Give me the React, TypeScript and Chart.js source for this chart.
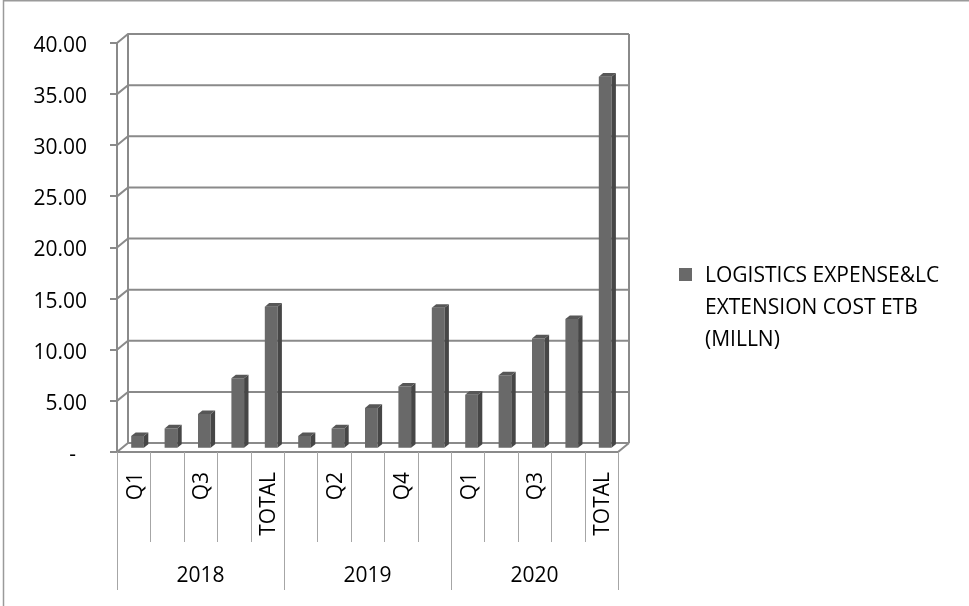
import React, { useEffect, useRef } from 'react';
import { Chart, registerables } from 'chart.js';
Chart.register(...registerables);

const years = ['2018', '2019', '2020'];
const periods = ['Q1', 'Q2', 'Q3', 'Q4', 'TOTAL'];
const values2018 = [1.25, 2.0, 3.4, 6.9, 13.9];
const values2019 = [1.25, 2.0, 4.0, 6.1, 13.8];
const values2020 = [5.3, 7.2, 10.8, 12.7, 36.4];
const seriesName = 'LOGISTICS EXPENSE&LC EXTENSION COST ETB (MILLN)';
const legendLines = ['LOGISTICS EXPENSE&LC', 'EXTENSION COST ETB', '(MILLN)'];
const yMin = 0;
const yMax = 40;
const yStep = 5;

const FONT = '"Open Sans", sans-serif';
const GRID = '#8a8a8a';
const SEP = '#a6a6a6';
const BAR_FRONT = '#696969';
const BAR_SIDE = '#464646';
const BAR_TOP = '#575757';
const DX = 11;
const DY = -9;
const BAR_POS = 0.35;
const BAR_DEPTH = 0.4;

const labels = years.flatMap((yr) => periods.map((p) => `${yr} ${p}`));
const values = [...values2018, ...values2019, ...values2020];

const threeD = {
  id: 'threeD',
  beforeDatasetsDraw(chart: any) {
    const { ctx, chartArea: a, scales } = chart;
    const y = scales.y;
    const y0 = y.getPixelForValue(yMin);
    const yT = y.getPixelForValue(yMax);
    ctx.save();
    ctx.strokeStyle = GRID;
    ctx.lineWidth = 2;
    ctx.beginPath();
    for (let v = yMin; v <= yMax; v += yStep) {
      const py = y.getPixelForValue(v);
      ctx.moveTo(a.left, py);
      ctx.lineTo(a.left + DX, py + DY);
      ctx.lineTo(a.right + DX, py + DY);
    }
    ctx.moveTo(a.left, yT);
    ctx.lineTo(a.left, y0);
    ctx.moveTo(a.left + DX, yT + DY);
    ctx.lineTo(a.left + DX, y0 + DY);
    ctx.moveTo(a.right + DX, yT + DY);
    ctx.lineTo(a.right + DX, y0 + DY);
    ctx.moveTo(a.left, y0);
    ctx.lineTo(a.right, y0);
    ctx.lineTo(a.right + DX, y0 + DY);
    ctx.stroke();
    ctx.restore();
    ctx.save();
    ctx.translate(DX * BAR_POS, DY * BAR_POS);
  },
  afterDatasetsDraw(chart: any) {
    const ctx = chart.ctx;
    const meta = chart.getDatasetMeta(0);
    const sdx = DX * BAR_DEPTH;
    const sdy = DY * BAR_DEPTH;
    meta.data.forEach((el: any) => {
      const { x, y, base, width } = el.getProps(['x', 'y', 'base', 'width'], true);
      const l = x - width / 2;
      const r = x + width / 2;
      ctx.fillStyle = BAR_SIDE;
      ctx.beginPath();
      ctx.moveTo(r, y);
      ctx.lineTo(r + sdx, y + sdy);
      ctx.lineTo(r + sdx, base + sdy);
      ctx.lineTo(r, base);
      ctx.closePath();
      ctx.fill();
      ctx.fillStyle = BAR_TOP;
      ctx.beginPath();
      ctx.moveTo(l, y);
      ctx.lineTo(r, y);
      ctx.lineTo(r + sdx, y + sdy);
      ctx.lineTo(l + sdx, y + sdy);
      ctx.closePath();
      ctx.fill();
    });
    ctx.restore();
  },
  afterDraw(chart: any) {
    const { ctx, chartArea: a, scales } = chart;
    const xs = scales.x;
    const n = labels.length;
    const w = (a.right - a.left) / n;
    const y0 = a.bottom;
    ctx.save();
    // outer border
    ctx.strokeStyle = '#9a9a9a';
    ctx.lineWidth = 1.5;
    ctx.beginPath();
    ctx.moveTo(3.5, chart.height);
    ctx.lineTo(3.5, 0.75);
    ctx.lineTo(chart.width, 0.75);
    ctx.stroke();
    // separators
    ctx.strokeStyle = SEP;
    ctx.lineWidth = 1;
    ctx.beginPath();
    for (let i = 0; i <= n; i++) {
      const px = Math.round(a.left + i * w) + 0.5;
      ctx.moveTo(px, y0);
      ctx.lineTo(px, i % periods.length === 0 ? y0 + 138 : y0 + 90);
    }
    ctx.stroke();
    ctx.fillStyle = '#000';
    ctx.font = `21px ${FONT}`;
    // period labels (every other, as auto-skipped)
    for (let i = 0; i < n; i += 2) {
      const px = xs.getPixelForValue(i) + 2;
      ctx.save();
      ctx.translate(px, y0 + 20);
      ctx.rotate(-Math.PI / 2);
      ctx.textAlign = 'right';
      ctx.textBaseline = 'middle';
      ctx.fillText(periods[i % periods.length], 0, 0);
      ctx.restore();
    }
    // year labels
    ctx.textAlign = 'center';
    ctx.textBaseline = 'middle';
    years.forEach((yr, g) => {
      const cx = a.left + (g * periods.length + periods.length / 2) * w;
      ctx.fillText(yr, cx, y0 + 124);
    });
    ctx.restore();
  },
};

export default function App() {
  const ref = useRef<HTMLCanvasElement>(null);
  useEffect(() => {
    document.body.style.margin = '0';
    const chart = new Chart(ref.current!, {
      type: 'bar',
      data: {
        labels,
        datasets: [
          {
            label: seriesName,
            data: values,
            backgroundColor: BAR_FRONT,
            borderWidth: 0,
            categoryPercentage: 1,
            barPercentage: 0.38,
          },
        ],
      },
      options: {
        responsive: false,
        animation: false,
        events: [],
        layout: { padding: { left: 0, top: 43, right: 351, bottom: 154 } },
        plugins: { legend: { display: false }, tooltip: { enabled: false } },
        scales: {
          x: { display: false, offset: true, grid: { display: false } },
          y: {
            min: yMin,
            max: yMax,
            afterFit: (s: any) => {
              s.width = 117;
            },
            border: { display: false },
            grid: {
              drawOnChartArea: false,
              drawTicks: true,
              tickLength: 7,
              color: GRID,
              lineWidth: 2,
            },
            ticks: {
              stepSize: yStep,
              padding: 23,
              labelOffset: 3,
              color: '#000',
              font: { family: FONT, size: 21 },
              callback: (v: any) => (Number(v) === 0 ? '-  ' : Number(v).toFixed(2)),
            },
          },
        },
      },
      plugins: [threeD],
    });
    return () => chart.destroy();
  }, []);
  return (
    <div style={{ position: 'relative', width: 969, height: 606, background: '#fff' }}>
      <canvas ref={ref} width={969} height={606} style={{ display: 'block' }} />
      <div
        style={{
          position: 'absolute',
          left: 679,
          top: 268,
          width: 13,
          height: 13,
          background: BAR_FRONT,
        }}
      />
      <div
        style={{
          position: 'absolute',
          left: 705,
          top: 258,
          font: `21px ${FONT}`,
          lineHeight: '32px',
          color: '#000',
          whiteSpace: 'nowrap',
        }}
      >
        {legendLines.map((t, i) => (
          <div key={i}>{t}</div>
        ))}
      </div>
    </div>
  );
}
